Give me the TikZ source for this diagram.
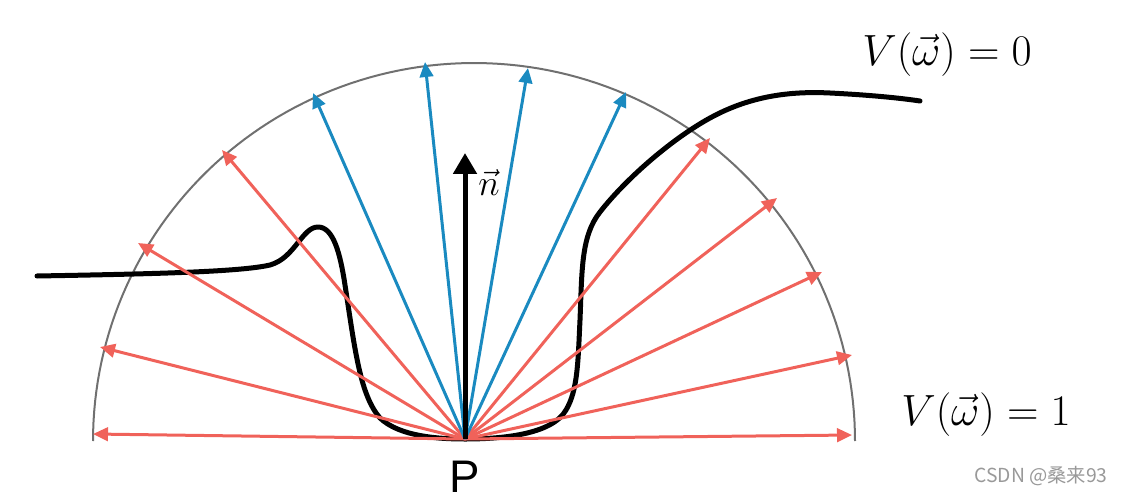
\documentclass[tikz,border=0pt]{standalone}
\usepackage{amsmath}
\usepackage{fontspec}
\newfontfamily\psans{Liberation Sans}
\newfontfamily\cjk{Noto Sans CJK SC}
\usepackage{tikz}
\usetikzlibrary{arrows.meta, positioning}
\usepackage{xcolor}
\definecolor{raycol}{RGB}{240,98,90}
\definecolor{skycol}{RGB}{26,138,192}
\definecolor{rimcol}{RGB}{112,112,112}
\tikzstyle{redray} = [raycol, line width=0.06cm, -{Triangle[length=0.3cm,width=0.27cm]}]
\tikzstyle{blueray} = [skycol, line width=0.06cm, -{Triangle[length=0.3cm,width=0.27cm]}]
\tikzstyle{nvec} = [black, line width=0.1cm, -{Triangle[length=0.42cm,width=0.46cm]}]
\tikzstyle{vis} = [black, line width=0.1cm, line join=round, line cap=round]

\begin{document}
\begin{tikzpicture}[x={(0.02cm,0)}, y={(0,-0.02cm)},
    lbl/.style={inner sep=0pt, font=\fontsize{28}{30}\selectfont}
  ]

  \useasboundingbox (0,0) rectangle (1124,500);

  \coordinate (P) at (465,439);

  \draw[rimcol, line width=0.04cm] plot[domain=0:180, samples=120]
    ({474+381*cos(\x)}, {441-378*sin(\x)});

  \draw[vis] (37,276) .. controls (150,274) and (240,272) .. (270,265)
    .. controls (295,258) and (302,227) .. (318,227)
    .. controls (333,227) and (340,252) .. (345,285)
    .. controls (355,350) and (360,395) .. (380,418)
    .. controls (400,437) and (440,439) .. (P)
    .. controls (500,439) and (552,435) .. (566,410)
    .. controls (578,390) and (578,360) .. (580,320)
    .. controls (582,270) and (581,236) .. (600,212)
    .. controls (625,180) and (670,140) .. (710,118)
    .. controls (750,96) and (790,91) .. (830,93)
    .. controls (870,95) and (900,98) .. (920,101);

  \foreach \tx/\ty [count=\i] in {93/434, 100/347, 138/243, 222/150,
      710/138, 777/198, 822/272, 852/355, 852/435}
    \coordinate (r\i) at (\tx,\ty);
  \foreach \tx/\ty [count=\i] in {313/93, 425/62, 528/68, 626/92}
    \coordinate (b\i) at (\tx,\ty);
  \coordinate (ntip) at (465,153);

  \foreach \i in {1,...,9}
    \draw[redray] (P) -- (r\i);
  \foreach \i in {1,...,4}
    \draw[blueray] (P) -- (b\i);
  \draw[nvec] (P) -- (ntip);

  \node[font=\fontsize{21}{23}\selectfont, inner sep=0pt] (nlab) at (489,183) {$\vec{n}$};
  \node[lbl] (v0) at (947,55) {$V(\vec{\omega})=0$};
  \node[lbl] (v1) at (986,415) {$V(\vec{\omega})=1$};
  \node[inner sep=0pt, font=\psans\fontsize{26}{28}\selectfont] (plab) at (465,477) {P};
  \node[inner sep=0pt, text=gray!80, font=\cjk\fontsize{11}{13}\selectfont] (mark) at (1041,476) {CSDN @桑来93};

\end{tikzpicture}
\end{document}
